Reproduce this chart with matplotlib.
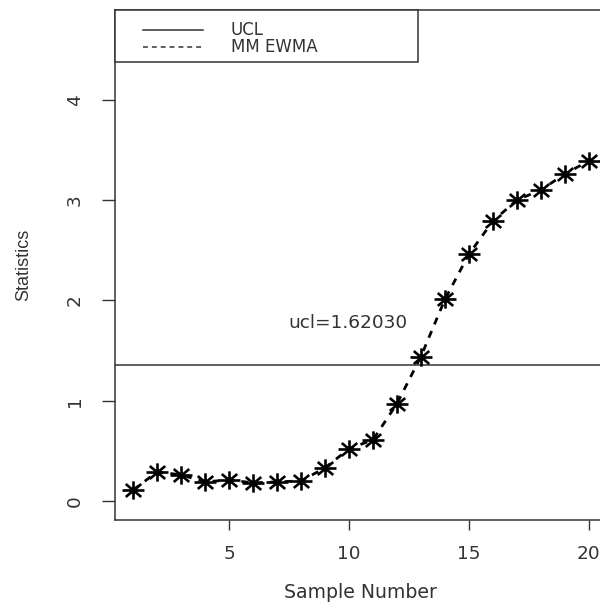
import numpy as np
import matplotlib
matplotlib.use("Agg")
import matplotlib.pyplot as plt
from matplotlib.path import Path
from matplotlib.lines import Line2D
from matplotlib.patches import Rectangle

sample = list(range(1, 21))
mm_ewma = [0.11, 0.29, 0.26, 0.19, 0.21, 0.18, 0.19, 0.20, 0.33, 0.52,
           0.61, 0.97, 1.44, 2.01, 2.46, 2.79, 3.00, 3.10, 3.26, 3.39]
ucl_level = 1.353
ucl_text = "ucl=1.62030"
xticks = [5, 10, 15, 20]
yticks = [0, 1, 2, 3, 4]
legend_labels = ["UCL", "MM EWMA"]

GREY = '#333333'
HFONT = ['DejaVu Sans']          # horizontal text (reference is stretched sideways)
VFONT = ['Liberation Sans', 'DejaVu Sans']

# R pch=8 asterisk, a bit wider than tall like the reference
verts, codes = [], []
for a in np.deg2rad(np.arange(0, 360, 45)):
    verts += [(0, 0), (1.2 * np.cos(a), np.sin(a))]
    codes += [Path.MOVETO, Path.LINETO]
star = Path(verts, codes)

fig = plt.figure(figsize=(6.0, 6.1), dpi=100)
W, H = 600, 610
def fx(px): return px / W
def fy(py): return 1 - py / H

# axes box in pixels: left 115, right ~607 (cut off), top 10, bottom 520
ax = fig.add_axes([fx(115), fy(520), (607 - 115) / W, (520 - 10) / H])

ax.axhline(ucl_level, color=GREY, lw=1.1)
ax.plot(sample, mm_ewma, color='black', lw=2.0, ls=(0, (2.6, 2.6)))
ax.plot(sample, mm_ewma, ls='none', marker=star, ms=15.8, mew=1.9,
        color='black', mec='black')

ax.text(9.95, 1.77, ucl_text, ha='center', va='center', fontsize=13.3,
        color=GREY, family=HFONT)

ax.set_xlim(0.24, 20.76)
ax.set_ylim(-0.19, 4.895)
ax.set_xticks(xticks)
ax.set_yticks(yticks)
ax.set_xticklabels([str(v) for v in xticks], family=HFONT, fontsize=13.3)
ax.set_yticklabels([str(v) for v in yticks], rotation=90, va='center',
                   family=HFONT, fontsize=13.3)
ax.tick_params(axis='x', direction='out', length=7.2, width=1, colors=GREY,
               labelcolor=GREY, pad=11)
ax.tick_params(axis='y', direction='out', length=9.4, width=1, colors=GREY,
               labelcolor=GREY, pad=13)
for s in ax.spines.values():
    s.set_color(GREY)
    s.set_linewidth(1.1)

fig.text(fx(23.5), fy(265), "Statistics", rotation=90, ha='center', va='center',
         fontsize=13, color=GREY, family=VFONT)
fig.text(fx(360), fy(592), "Sample Number", ha='center', va='center',
         fontsize=13.6, color=GREY, family=HFONT)

# legend box drawn like R's legend()
fig.add_artist(Rectangle((fx(115), fy(62)), (418 - 115) / W, (62 - 10) / H,
                         transform=fig.transFigure, facecolor='white',
                         edgecolor=GREY, lw=1.1, zorder=5))
styles = ['-', (0, (3.2, 2.6))]
for lab, st, py in zip(legend_labels, styles, [30, 47]):
    fig.add_artist(Line2D([fx(143), fx(203)], [fy(py), fy(py)],
                          transform=fig.transFigure, color=GREY, lw=1.1,
                          ls=st, zorder=6))
    fig.text(fx(231), fy(py), lab, ha='left', va='center', fontsize=12,
             color=GREY, family=HFONT, zorder=6)

fig.savefig("out.png", dpi=100)
